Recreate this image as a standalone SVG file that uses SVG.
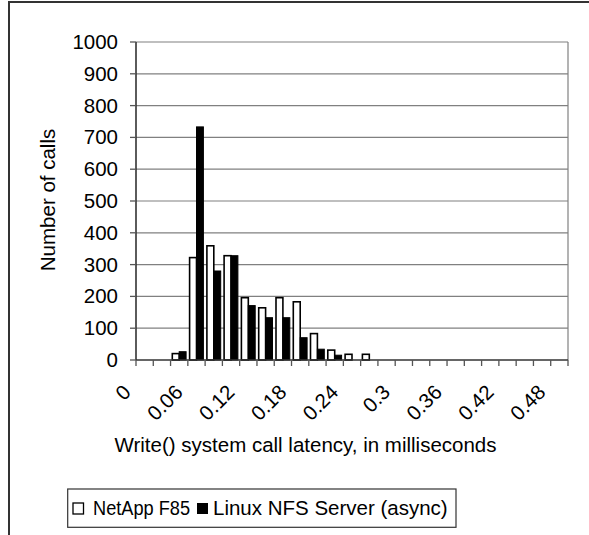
<svg xmlns="http://www.w3.org/2000/svg" width="589" height="535" viewBox="0 0 589 535">
<style>
text{font-family:"Liberation Sans",Arial,sans-serif;font-size:20.5px;fill:#000}
.grid{stroke:#808080;stroke-width:1.2;fill:none}
.axis{stroke:#333;stroke-width:1.6;fill:none}
.tick{stroke:#555;stroke-width:1.3}
.w{fill:#fff;stroke:#000;stroke-width:1.6}
.b{fill:#000;stroke:#000;stroke-width:1}
.yl{text-anchor:end}
.xl{text-anchor:end}
</style>
<rect x="0" y="0" width="589" height="535" fill="#fff"/>
<rect id="frame" x="9" y="2" width="620" height="600" fill="none" stroke="#333" stroke-width="2"/>
<g id="plot">
<rect x="136" y="42" width="432" height="318" fill="#fff"/>
<g id="gridlines">
<line class="grid" x1="136" y1="328.2" x2="568" y2="328.2"/>
<line class="grid" x1="136" y1="296.4" x2="568" y2="296.4"/>
<line class="grid" x1="136" y1="264.6" x2="568" y2="264.6"/>
<line class="grid" x1="136" y1="232.8" x2="568" y2="232.8"/>
<line class="grid" x1="136" y1="201" x2="568" y2="201"/>
<line class="grid" x1="136" y1="169.2" x2="568" y2="169.2"/>
<line class="grid" x1="136" y1="137.4" x2="568" y2="137.4"/>
<line class="grid" x1="136" y1="105.6" x2="568" y2="105.6"/>
<line class="grid" x1="136" y1="73.8" x2="568" y2="73.8"/>
<line class="grid" x1="136" y1="42" x2="568" y2="42"/>
<line class="grid" x1="568" y1="42" x2="568" y2="360"/>
</g>
<g id="bars-netapp">
<rect class="w" x="172.3" y="353.6" width="6.9" height="6.4"/>
<rect class="w" x="189.6" y="257.6" width="6.9" height="102.4"/>
<rect class="w" x="206.9" y="245.8" width="6.9" height="114.2"/>
<rect class="w" x="224.1" y="255.7" width="6.9" height="104.3"/>
<rect class="w" x="241.4" y="297.7" width="6.9" height="62.3"/>
<rect class="w" x="258.7" y="307.8" width="6.9" height="52.2"/>
<rect class="w" x="276" y="297.7" width="6.9" height="62.3"/>
<rect class="w" x="293.3" y="301.8" width="6.9" height="58.2"/>
<rect class="w" x="310.5" y="333.6" width="6.9" height="26.4"/>
<rect class="w" x="327.8" y="350.1" width="6.9" height="9.9"/>
<rect class="w" x="345.1" y="354.3" width="6.9" height="5.7"/>
<rect class="w" x="362.4" y="354.3" width="6.9" height="5.7"/>
</g>
<g id="bars-linux">
<rect class="b" x="179.2" y="351.7" width="6.9" height="8.3"/>
<rect class="b" x="196.5" y="126.9" width="6.9" height="233.1"/>
<rect class="b" x="213.8" y="271" width="6.9" height="89"/>
<rect class="b" x="231" y="255.7" width="6.9" height="104.3"/>
<rect class="b" x="248.3" y="305.6" width="6.9" height="54.4"/>
<rect class="b" x="265.6" y="317.7" width="6.9" height="42.3"/>
<rect class="b" x="282.9" y="317.7" width="6.9" height="42.3"/>
<rect class="b" x="300.2" y="337.7" width="6.9" height="22.3"/>
<rect class="b" x="317.4" y="349.2" width="6.9" height="10.8"/>
<rect class="b" x="334.7" y="355.2" width="6.9" height="4.8"/>
</g>
<g id="axes">
<line class="axis" x1="136" y1="42" x2="136" y2="360"/>
<line class="axis" x1="136" y1="360" x2="568" y2="360"/>
<g class="tick">
<line x1="130" y1="360" x2="136" y2="360"/>
<line x1="130" y1="328.2" x2="136" y2="328.2"/>
<line x1="130" y1="296.4" x2="136" y2="296.4"/>
<line x1="130" y1="264.6" x2="136" y2="264.6"/>
<line x1="130" y1="232.8" x2="136" y2="232.8"/>
<line x1="130" y1="201" x2="136" y2="201"/>
<line x1="130" y1="169.2" x2="136" y2="169.2"/>
<line x1="130" y1="137.4" x2="136" y2="137.4"/>
<line x1="130" y1="105.6" x2="136" y2="105.6"/>
<line x1="130" y1="73.8" x2="136" y2="73.8"/>
<line x1="130" y1="42" x2="136" y2="42"/>
</g>
<path class="tick" d="M136 360v6M153.28 360v6M170.56 360v6M187.84 360v6M205.12 360v6M222.4 360v6M239.68 360v6M256.96 360v6M274.24 360v6M291.52 360v6M308.8 360v6M326.08 360v6M343.36 360v6M360.64 360v6M377.92 360v6M395.2 360v6M412.48 360v6M429.76 360v6M447.04 360v6M464.32 360v6M481.6 360v6M498.88 360v6M516.16 360v6M533.44 360v6M550.72 360v6M568 360v6"/>
</g>
</g>
<g id="y-labels">
<text class="yl" x="118" y="367">0</text>
<text class="yl" x="118" y="335.2">100</text>
<text class="yl" x="118" y="303.4">200</text>
<text class="yl" x="118" y="271.6">300</text>
<text class="yl" x="118" y="239.8">400</text>
<text class="yl" x="118" y="208">500</text>
<text class="yl" x="118" y="176.2">600</text>
<text class="yl" x="118" y="144.4">700</text>
<text class="yl" x="118" y="112.6">800</text>
<text class="yl" x="118" y="80.8">900</text>
<text class="yl" x="118" y="49">1000</text>
</g>
<g id="x-labels">
<text class="xl" transform="translate(132.1,393.5) rotate(-45)">0</text>
<text class="xl" transform="translate(184,393.5) rotate(-45)">0.06</text>
<text class="xl" transform="translate(235.8,393.5) rotate(-45)">0.12</text>
<text class="xl" transform="translate(287.7,393.5) rotate(-45)">0.18</text>
<text class="xl" transform="translate(339.5,393.5) rotate(-45)">0.24</text>
<text class="xl" transform="translate(391.3,393.5) rotate(-45)">0.3</text>
<text class="xl" transform="translate(443.2,393.5) rotate(-45)">0.36</text>
<text class="xl" transform="translate(495,393.5) rotate(-45)">0.42</text>
<text class="xl" transform="translate(546.9,393.5) rotate(-45)">0.48</text>
</g>
<text id="y-title" transform="translate(55,200) rotate(-90)" text-anchor="middle">Number of calls</text>
<text id="x-title" x="305.5" y="452" text-anchor="middle">Write() system call latency, in milliseconds</text>
<g id="legend">
<rect x="67.7" y="489" width="388.3" height="38.3" fill="#fff" stroke="#333" stroke-width="1.2"/>
<rect x="73" y="503" width="10.5" height="11" fill="#fff" stroke="#000" stroke-width="1.3"/>
<text x="93" y="514.5" textLength="97" lengthAdjust="spacingAndGlyphs">NetApp F85</text>
<rect x="197" y="503" width="11" height="11" fill="#000"/>
<text x="213" y="514.5">Linux NFS Server (async)</text>
</g>
</svg>
